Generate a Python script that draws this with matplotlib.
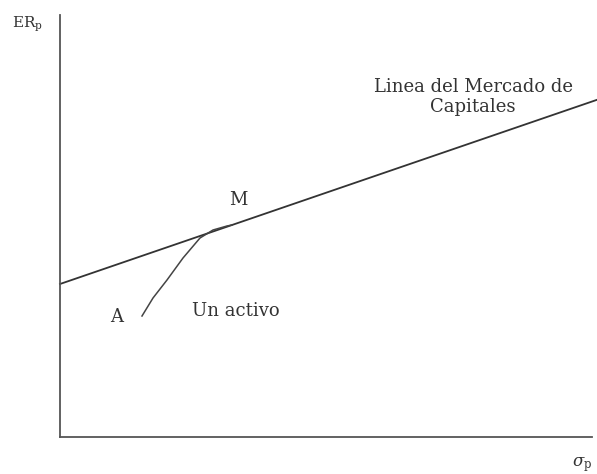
import matplotlib
matplotlib.use('Agg')
import numpy as np
import matplotlib.pyplot as plt

plt.rcParams['font.family'] = ['DejaVu Serif', 'Liberation Serif']
plt.rcParams['mathtext.fontset'] = 'dejavuserif'

# Linea del Mercado de Capitales: tasa libre de riesgo y pendiente
rf = 1.53
slope = 0.343
cml_x = [0.0, 5.37]

# curva de un activo (A -> M)
activo_x = [0.82, 0.93, 1.07, 1.23, 1.40, 1.53, 1.67, 1.72]
activo_y = [1.21, 1.39, 1.57, 1.79, 1.99, 2.07, 2.11, 2.12]

fig = plt.figure(figsize=(5.97, 4.74), dpi=100)
ax = fig.add_axes([60 / 597, 37 / 474, 537 / 597, 422 / 474])
ax.set_xlim(0, 5.37)
ax.set_ylim(0, 4.22)

cml_y = [rf + slope * x for x in cml_x]
ax.plot(cml_x, cml_y, color='#333333', lw=1.3, clip_on=False)
ax.plot(activo_x, activo_y, color='#444444', lw=1.1)

for s in ['top', 'right']:
    ax.spines[s].set_visible(False)
ax.spines['left'].set_color('#555555')
ax.spines['bottom'].set_color('#555555')
ax.spines['left'].set_linewidth(1.3)
ax.spines['bottom'].set_linewidth(1.3)
ax.spines['bottom'].set_bounds(0, 5.32)
ax.set_xticks([])
ax.set_yticks([])

fs = 13
ax.text(4.13, 3.40, 'Linea del Mercado de\nCapitales', ha='center', va='center',
        fontsize=fs, color='#333333', linespacing=1.15)
ax.text(1.78, 2.37, 'M', ha='center', va='center', fontsize=fs, color='#333333')
ax.text(0.57, 1.20, 'A', ha='center', va='center', fontsize=fs, color='#333333')
ax.text(1.32, 1.26, 'Un activo', ha='left', va='center', fontsize=fs, color='#333333')

fig.text(12 / 597, 1 - 24 / 474, 'ER$_\\mathrm{p}$', ha='left', va='center',
         fontsize=11, color='#333333')
fig.text(572 / 597, 1 - 465 / 474, '$\\sigma_\\mathrm{p}$', ha='left', va='center',
         fontsize=12, color='#333333')

fig.savefig('out.png', dpi=100)
